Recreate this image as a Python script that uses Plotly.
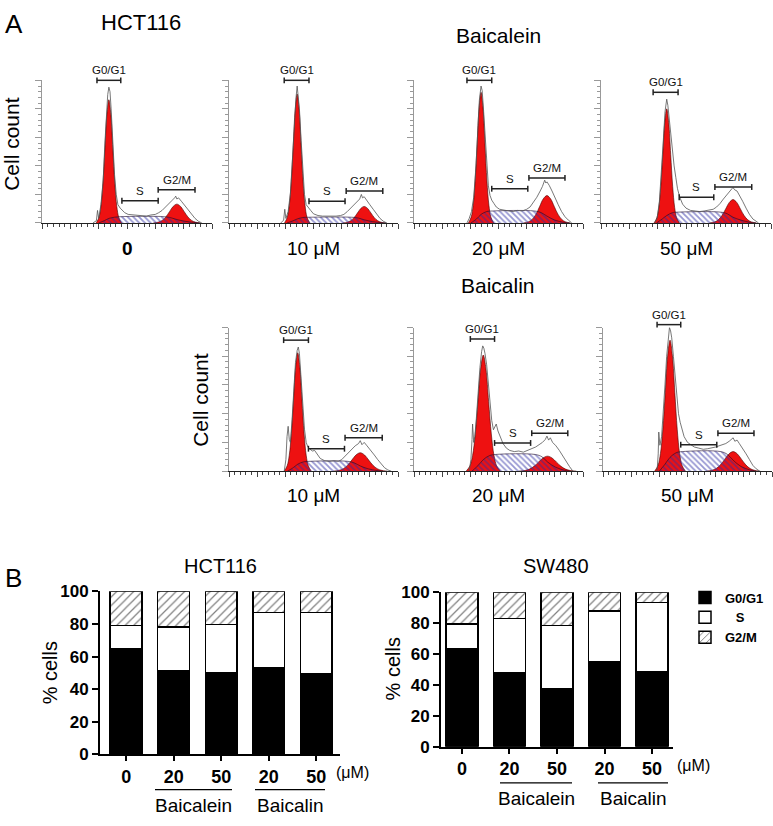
import plotly.graph_objects as go

FONT = "Liberation Sans"
FIG_W, FIG_H = 773, 826

# ---------------- Panel A data (flow cytometry, channel 0-300, count 0-250) ----------------
PANEL_LABELS = ["<b>0</b>", "10 μM", "20 μM", "50 μM", "10 μM", "20 μM", "50 μM"]

# modelled G0/G1 and G2/M peaks (red)
G1_CENTER = [118, 121, 119, 116, 122, 123, 119]
G1_HEIGHT = [216, 226, 229, 200, 206, 202, 228]
G1_WIDTH = [7, 7, 7, 7, 7.5, 9.5, 8.5]
G2_CENTER = [238, 240, 236, 233, 233, 237, 231]
G2_HEIGHT = [33, 29, 48, 41, 32, 26, 34]
G2_WIDTH = [13, 12, 13, 13, 15, 16, 15]
PEAK_K = [-3.2, -2.5, -2, -1.5, -1, -0.5, 0, 0.5, 1, 1.5, 2, 2.5, 3.2]
PEAK_F = [0, 0.045, 0.135, 0.32, 0.6, 0.88, 1, 0.88, 0.6, 0.32, 0.135, 0.045, 0]

# modelled S phase (hatched)
S_X = [
    [100, 110, 118, 128, 138, 216, 228, 238, 252, 268, 278],
    [103, 113, 121, 131, 141, 218, 230, 240, 254, 270, 280],
    [101, 111, 119, 129, 139, 214, 226, 236, 250, 266, 276],
    [98, 108, 116, 126, 136, 211, 223, 233, 247, 263, 273],
    [104, 114, 122, 132, 142, 211, 223, 233, 247, 263, 273],
    [103, 114, 123, 134, 145, 215, 227, 237, 251, 267, 277],
    [100, 110, 119, 130, 141, 209, 221, 231, 245, 261, 271],
]
S_Y = [
    [0, 4, 8, 10, 11, 11, 9, 6, 3, 1, 0],
    [0, 3.5, 7, 9.5, 10, 10, 8.5, 5.5, 2.5, 0.5, 0],
    [0, 7, 15, 20, 21, 21, 18, 12, 5, 1, 0],
    [0, 7, 13, 18, 19, 19, 16, 10, 5, 1, 0],
    [0, 6, 12, 16, 17, 17, 14, 9, 4, 1, 0],
    [0, 10, 20, 27, 29, 29, 25, 16, 7, 1.5, 0],
    [0, 12, 24, 32, 34, 34, 29, 19, 8, 2, 0],
]

# measured histograms (outline)
RAW_X = [
    [90, 96, 98, 100, 104, 108, 111, 114, 116, 118, 120, 122, 125, 128, 131, 134, 138, 142, 146, 152, 160, 168, 176, 184, 192, 200, 206, 212, 218, 224, 230, 234, 236, 238, 241, 246, 252, 258, 264, 270, 276, 282],
    [92, 97, 99, 101, 105, 109, 113, 116, 119, 121, 123, 125, 128, 131, 134, 137, 141, 145, 150, 158, 166, 174, 182, 190, 198, 204, 210, 216, 222, 228, 232, 235, 237, 240, 245, 250, 256, 262, 268, 274, 280],
    [94, 98, 102, 106, 110, 113, 116, 119, 121, 123, 126, 129, 132, 135, 138, 142, 146, 152, 160, 168, 176, 184, 192, 200, 206, 212, 218, 224, 228, 232, 234, 236, 240, 245, 250, 256, 262, 268, 274, 280],
    [95, 99, 103, 107, 110, 113, 116, 118, 120, 123, 126, 129, 132, 135, 139, 144, 150, 158, 166, 174, 182, 190, 198, 204, 210, 216, 222, 228, 231, 233, 236, 240, 245, 250, 256, 262, 268, 274, 278],
    [98, 101, 103, 105, 107, 109, 112, 115, 118, 121, 123, 125, 128, 131, 134, 137, 140, 144, 148, 152, 156, 162, 170, 178, 186, 194, 200, 206, 212, 218, 224, 230, 233, 236, 240, 245, 252, 258, 264, 270, 276, 282, 288],
    [98, 101, 103, 104, 106, 108, 111, 114, 117, 120, 122, 124, 126, 129, 132, 135, 138, 141, 144, 146, 149, 153, 158, 164, 170, 178, 186, 194, 202, 210, 216, 222, 228, 233, 236, 239, 242, 246, 252, 258, 264, 270, 276, 282],
    [96, 98, 99, 101, 104, 107, 110, 113, 116, 118, 120, 122, 125, 128, 131, 134, 137, 140, 144, 150, 156, 162, 170, 178, 186, 194, 200, 206, 212, 218, 224, 228, 231, 234, 238, 242, 248, 254, 260, 266, 272, 278],
]
RAW_Y = [
    [0, 4, 22, 8, 32, 75, 140, 192, 225, 238, 230, 200, 140, 85, 50, 32, 26, 22, 18, 15, 14, 13, 13, 12, 14, 15, 18, 22, 28, 35, 40, 44, 47, 42, 44, 38, 30, 22, 14, 8, 3, 0],
    [0, 5, 24, 8, 20, 52, 118, 175, 220, 240, 225, 200, 145, 88, 50, 32, 26, 22, 16, 13, 12, 12, 11, 12, 13, 15, 20, 26, 32, 38, 42, 50, 44, 46, 40, 32, 24, 15, 8, 3, 0],
    [0, 8, 20, 45, 100, 160, 215, 240, 232, 205, 158, 100, 65, 48, 40, 34, 28, 24, 22, 21, 20, 22, 21, 24, 28, 36, 45, 56, 64, 75, 70, 72, 66, 56, 44, 32, 20, 11, 5, 0],
    [0, 8, 37, 92, 145, 195, 217, 206, 185, 150, 120, 100, 80, 60, 45, 33, 26, 22, 21, 20, 21, 22, 24, 28, 34, 42, 50, 56, 60, 62, 58, 56, 48, 38, 26, 15, 7, 2, 0],
    [0, 20, 60, 78, 55, 50, 90, 142, 189, 210, 216, 205, 160, 112, 73, 50, 42, 38, 35, 36, 30, 22, 18, 17, 18, 17, 20, 26, 32, 38, 44, 48, 53, 46, 50, 44, 36, 28, 20, 12, 6, 2, 0],
    [0, 20, 55, 82, 50, 60, 96, 140, 180, 208, 218, 214, 205, 185, 150, 118, 88, 72, 78, 82, 70, 60, 48, 40, 36, 34, 35, 33, 36, 40, 42, 46, 50, 55, 61, 54, 58, 50, 44, 36, 26, 16, 8, 0],
    [0, 30, 68, 45, 60, 100, 150, 200, 240, 250, 244, 232, 200, 165, 135, 100, 85, 75, 60, 50, 46, 42, 40, 38, 39, 40, 42, 44, 46, 48, 52, 55, 58, 52, 54, 48, 40, 30, 20, 10, 4, 0],
]

# gate markers [left, right, level]
BR_G1 = [[97, 139, 250], [98, 142, 250], [94, 138, 250], [92, 136, 229], [97, 141, 228], [100, 143, 230], [96, 138, 255]]
BR_S = [[141, 205, 39], [142, 206, 38], [138, 202, 60], [138, 199, 45], [141, 205, 39], [143, 207, 49], [138, 202, 46]]
BR_G2 = [[205, 270, 58], [208, 273, 56], [204, 268, 79], [201, 266, 63], [206, 272, 58], [209, 273, 66], [204, 268, 66]]
GATE_NAMES = ["G0/G1", "S", "G2/M"]

# ---------------- Panel B data ----------------
CATS = ["Control", "Baicalein 20", "Baicalein 50", "Baicalin 20", "Baicalin 50"]
DOSE_LABELS = ["0", "20", "50", "20", "50"]
HCT_G1 = [65, 51.5, 50, 53, 49.5]
HCT_S = [14, 26.5, 29.5, 34, 37.5]
HCT_G2M = [21, 22, 20.5, 13, 13]
SW_G1 = [63.5, 48, 37.5, 55, 48.5]
SW_S = [16, 35, 41, 33, 45]
SW_G2M = [20.5, 17, 21.5, 12, 6.5]


def px(x):
    return x / FIG_W


def py(y):
    return 1 - y / FIG_H


def ax_name(letter, i):
    return letter if i == 1 else f"{letter}{i}"


HIST_X_PX = [(42, 212), (229, 398), (414, 583), (601, 771), (229, 398), (414, 583), (603, 772)]
HIST_Y_PX = [(73, 219)] * 4 + [(326, 473)] * 3
LABEL_Y_PX = [245] * 4 + [498] * 3

fig = go.Figure()
layout_axes = {}
shapes = []
annotations = []

for p in range(7):
    i = p + 1
    xa, ya = ax_name("x", i), ax_name("y", i)
    # red model peaks
    for c, h, w in ((G2_CENTER[p], G2_HEIGHT[p], G2_WIDTH[p]), (G1_CENTER[p], G1_HEIGHT[p], G1_WIDTH[p])):
        fig.add_trace(go.Scatter(
            x=[c + k * w for k in PEAK_K], y=[h * f for f in PEAK_F],
            mode="lines", line=dict(color="rgba(70,0,0,0.85)", width=0.7, shape="spline"),
            fill="tozeroy", fillcolor="#ee1111", xaxis=xa, yaxis=ya, showlegend=False,
            hoverinfo="skip"))
    # S phase hatched
    fig.add_trace(go.Scatter(
        x=S_X[p], y=S_Y[p], mode="lines",
        line=dict(color="rgba(30,10,40,0.85)", width=0.7, shape="spline"),
        fill="tozeroy", fillcolor="rgba(0,0,0,0)",
        fillpattern=dict(shape="\\", fgcolor="rgb(45,45,165)", size=4, solidity=0.45),
        xaxis=xa, yaxis=ya, showlegend=False, hoverinfo="skip"))
    # raw histogram outline
    fig.add_trace(go.Scatter(
        x=RAW_X[p], y=RAW_Y[p], mode="lines",
        line=dict(color="rgb(85,85,85)", width=0.8),
        xaxis=xa, yaxis=ya, showlegend=False, hoverinfo="skip"))
    # peak position markers
    fig.add_trace(go.Scatter(
        x=[G1_CENTER[p], G2_CENTER[p]], y=[-4, -4], mode="markers",
        marker=dict(symbol="triangle-up", size=6, color="black"),
        cliponaxis=False, xaxis=xa, yaxis=ya, showlegend=False, hoverinfo="skip"))

    x0, x1 = HIST_X_PX[p]
    yt, yb = HIST_Y_PX[p]
    layout_axes["xaxis" + ("" if i == 1 else str(i))] = dict(
        domain=[px(x0), px(x1)], range=[0, 300], anchor=ya,
        showline=True, linecolor="#222", linewidth=1,
        ticks="outside", ticklen=5, tickcolor="#444", tickwidth=1, dtick=50, tick0=0,
        minor=dict(dtick=10, ticklen=3, ticks="outside", tickcolor="#444"),
        showticklabels=False, showgrid=False, zeroline=False, fixedrange=True)
    layout_axes["yaxis" + ("" if i == 1 else str(i))] = dict(
        domain=[py(yb), py(yt)], range=[0, 250], anchor=xa,
        showline=True, linecolor="#999", linewidth=1,
        ticks="outside", ticklen=6, tickcolor="#999", dtick=50,
        minor=dict(dtick=10, ticklen=3, ticks="outside", tickcolor="#999"),
        showticklabels=False, showgrid=False, zeroline=False, fixedrange=True)

    # gate brackets
    cap = 3.0 / (yb - yt)
    for name, br in zip(GATE_NAMES, (BR_G1[p], BR_S[p], BR_G2[p])):
        l, r, lev = br
        yd = lev / 250
        for (sx0, sy0, sx1, sy1) in ((l, yd, r, yd), (l, yd - cap, l, yd + cap), (r, yd - cap, r, yd + cap)):
            shapes.append(dict(type="line", xref=xa, yref=ya + " domain",
                               x0=sx0, y0=sy0, x1=sx1, y1=sy1,
                               line=dict(color="#222", width=1.5)))
        annotations.append(dict(x=(l + r) / 2, y=yd, xref=xa, yref=ya + " domain",
                                text=name, showarrow=False, xanchor="center", yanchor="bottom",
                                yshift=2, font=dict(family=FONT, size=11.5, color="#111")))
    annotations.append(dict(x=px((x0 + x1) / 2), y=py(LABEL_Y_PX[p]), xref="paper", yref="paper",
                            text=PANEL_LABELS[p], showarrow=False, xanchor="center", yanchor="middle",
                            font=dict(family=FONT, size=19, color="black")))

# ---------------- Panel B bars ----------------
BAR_SETS = [
    ("x8", "y8", HCT_G1, HCT_S, HCT_G2M, False),
    ("x9", "y9", SW_G1, SW_S, SW_G2M, True),
]
for xa, ya, g1, s, g2, leg in BAR_SETS:
    fig.add_trace(go.Bar(x=CATS, y=g1, name="<b>G0/G1</b>", xaxis=xa, yaxis=ya,
                         marker=dict(color="black", line=dict(color="black", width=1.5)),
                         showlegend=leg, legendrank=1))
    fig.add_trace(go.Bar(x=CATS, y=s, name="<b>\u00a0\u00a0\u00a0S</b>", xaxis=xa, yaxis=ya,
                         marker=dict(color="white", line=dict(color="black", width=1.5)),
                         showlegend=leg, legendrank=2))
    fig.add_trace(go.Bar(x=CATS, y=g2, name="<b>G2/M</b>", xaxis=xa, yaxis=ya,
                         marker=dict(color="white", line=dict(color="black", width=1.5),
                                     pattern=dict(shape="/", fgcolor="black", bgcolor="white",
                                                  size=6, solidity=0.2)),
                         showlegend=leg, legendrank=3))

bar_x_common = dict(showline=True, linecolor="black", linewidth=2, ticks="outside", ticklen=5,
                    tickwidth=2, tickcolor="black", tickvals=CATS, ticktext=DOSE_LABELS,
                    tickfont=dict(family=FONT, size=18, color="black", weight="bold"),
                    showgrid=False, zeroline=False, fixedrange=True)
bar_y_common = dict(showline=True, linecolor="black", linewidth=2, ticks="outside", ticklen=6,
                    tickwidth=2, tickcolor="black", range=[0, 100], dtick=20,
                    tickfont=dict(family=FONT, size=17, color="black", weight="bold"),
                    showgrid=False, zeroline=False, fixedrange=True)
layout_axes["xaxis8"] = dict(domain=[px(100), px(340)], range=[-0.55, 4.5], anchor="y8", **bar_x_common)
layout_axes["yaxis8"] = dict(domain=[py(763), py(596)], anchor="x8", **bar_y_common)
layout_axes["xaxis9"] = dict(domain=[px(441), px(673)], range=[-0.44, 4.44], anchor="y9", **bar_x_common)
layout_axes["yaxis9"] = dict(domain=[py(755), py(597)], anchor="x9", **bar_y_common)


def txt(x, y, t, size, angle=0, anchor="center"):
    annotations.append(dict(x=px(x), y=py(y), xref="paper", yref="paper", text=t,
                            showarrow=False, textangle=angle, xanchor=anchor, yanchor="middle",
                            font=dict(family=FONT, size=size, color="black")))


txt(3, 15, "A", 26, anchor="left")
txt(3, 582, "B", 26, anchor="left")
txt(141, 14, "HCT116", 22)
txt(498, 27, "Baicalein", 21)
txt(498, 283, "Baicalin", 21)
txt(12, 138, "Cell count", 21, angle=-90)
txt(201, 400, "Cell count", 21, angle=-90)
txt(220, 570, "HCT116", 20)
txt(556, 570, "SW480", 20)
txt(50, 680, "% cells", 20, angle=-90)
txt(393, 676, "% cells", 20, angle=-90)
txt(352, 781, "(μM)", 16)
txt(693, 774, "(μM)", 16)
txt(193, 815, "Baicalein", 19)
txt(290, 815, "Baicalin", 19)
txt(536, 808, "Baicalein", 19)
txt(633, 808, "Baicalin", 19)

for (a, b, y) in ((155, 232, 799), (255, 325, 799), (500, 572, 792), (598, 668, 792)):
    shapes.append(dict(type="line", xref="paper", yref="paper", x0=px(a), x1=px(b),
                       y0=py(y), y1=py(y), line=dict(color="black", width=1.2)))

fig.update_layout(
    width=FIG_W, height=FIG_H, margin=dict(l=0, r=0, t=0, b=0),
    paper_bgcolor="white", plot_bgcolor="white",
    barmode="stack", bargap=0.33,
    shapes=shapes, annotations=annotations,
    legend=dict(x=px(685), y=py(587), xanchor="left", yanchor="top",
                font=dict(family=FONT, size=13, color="black"),
                bgcolor="rgba(0,0,0,0)", tracegroupgap=0, traceorder="normal"),
    font=dict(family=FONT),
    **layout_axes,
)

POST = (
    "document.documentElement.style.margin='0';"
    "document.documentElement.style.padding='0';"
    "document.documentElement.style.overflow='hidden';"
    "document.body.style.margin='0';"
    "document.body.style.padding='0';"
    "document.body.style.overflow='hidden';"
    "var g=document.getElementsByClassName('plotly-graph-div')[0];"
    "g.style.position='fixed';g.style.left='0px';g.style.top='0px';"
)

fig.write_html("out.html", config={"displayModeBar": False}, post_script=POST)
